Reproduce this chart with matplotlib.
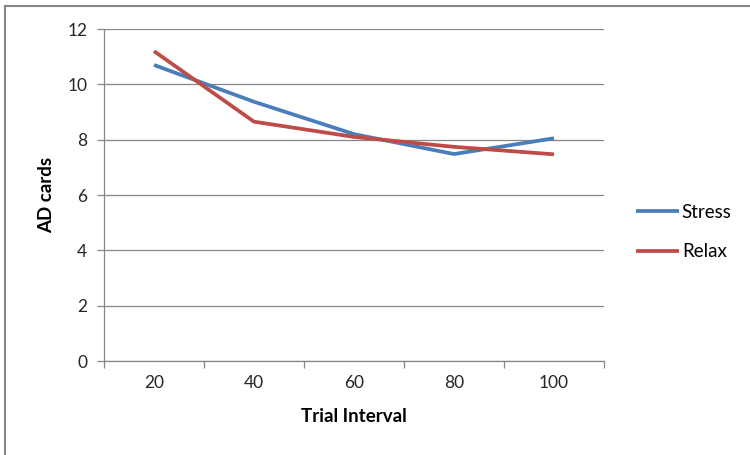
import numpy as np
import matplotlib
matplotlib.use("Agg")
import matplotlib.pyplot as plt
from matplotlib.lines import Line2D

plt.rcParams["font.family"] = ["Lato", "DejaVu Sans"]

intervals = ["20", "40", "60", "80", "100"]
stress = [10.7, 9.37, 8.2, 7.48, 8.05]
relax = [11.2, 8.65, 8.1, 7.74, 7.47]

BLUE, RED, GRID = "#4A7EBB", "#BE4B48", "#868686"

fig = plt.figure(figsize=(7.5, 4.55), dpi=100)
ax = fig.add_axes([104 / 750, 1 - 361 / 455, 500 / 750, 332 / 455])

x = np.arange(len(intervals))
ax.plot(x, stress, color=BLUE, lw=2.7, label="Stress", solid_capstyle="butt")
ax.plot(x, relax, color=RED, lw=2.7, label="Relax", solid_capstyle="butt")

ax.set_xlim(-0.5, len(intervals) - 0.5)
ax.set_ylim(0, 12)
ax.set_yticks(range(0, 13, 2))
ax.yaxis.grid(True, color=GRID, lw=0.9)
ax.set_axisbelow(True)

# category axis: ticks between categories, labels at centres
ax.set_xticks(np.arange(-0.5, len(intervals), 1.0))
ax.set_xticklabels([])
ax.set_xticks(x, minor=True)
ax.set_xticklabels(intervals, minor=True)
ax.tick_params(axis="x", which="minor", length=0, pad=10, labelsize=12.5, colors="#262626")
ax.tick_params(axis="x", which="major", length=5, color=GRID, width=0.9)
ax.tick_params(axis="y", length=5, color=GRID, width=0.9, pad=7, labelsize=12.5, labelcolor="#262626")

for s in ("top", "right"):
    ax.spines[s].set_visible(False)
for s in ("left", "bottom"):
    ax.spines[s].set_color(GRID)
    ax.spines[s].set_linewidth(0.9)

ax.set_xlabel("Trial Interval", fontsize=13.5, fontweight="bold", labelpad=12)
ax.set_ylabel("AD cards", fontsize=13.5, fontweight="bold", labelpad=9)

leg = fig.legend(loc="center left", bbox_to_anchor=(619 / 750, 1 - 232 / 455),
                 frameon=False, fontsize=13.5, handlelength=2.3, handletextpad=0.15,
                 labelspacing=1.2)

# chart frame (only top and left edges visible)
fig.add_artist(Line2D([5 / 750, 1], [1 - 6 / 455, 1 - 6 / 455], color="#868686", lw=1.5))
fig.add_artist(Line2D([5 / 750, 5 / 750], [0, 1 - 6 / 455], color="#868686", lw=1.5))

fig.savefig("out.png", dpi=100)
